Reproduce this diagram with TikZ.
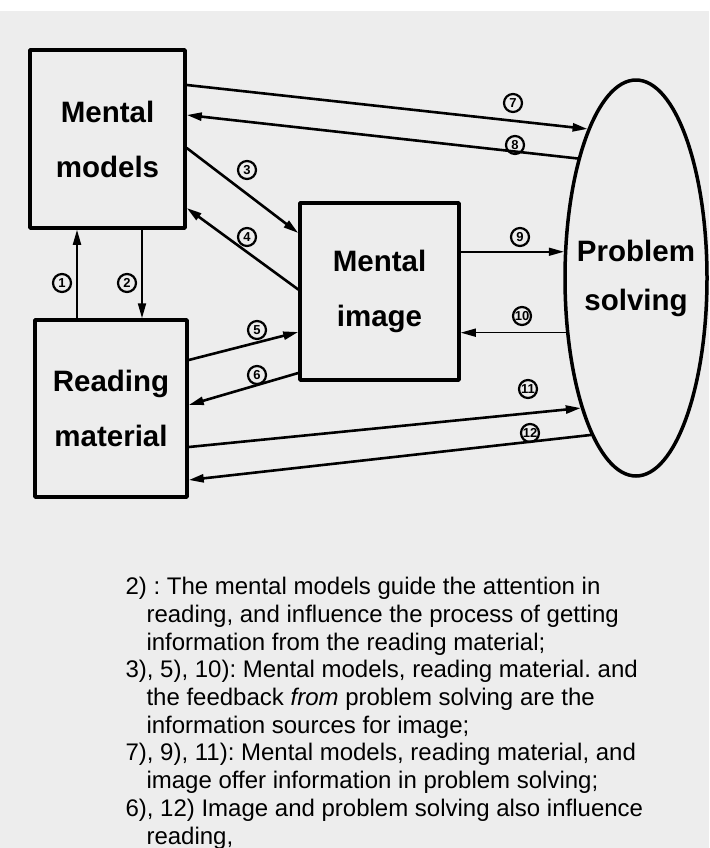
\documentclass[tikz,border=0pt]{standalone}
\usepackage{fontspec}
\setmainfont{Liberation Sans}
\usetikzlibrary{shapes.geometric,arrows.meta}
\definecolor{carta}{RGB}{237,237,237}
\frenchspacing
\tikzset{
  box/.style={draw, line width=3.5pt, minimum height=177pt, inner sep=0pt,
    align=center, font=\fontsize{29.5}{55}\selectfont\bfseries},
  blob/.style={draw, ellipse, line width=3.5pt, minimum width=142pt,
    minimum height=396pt, inner sep=0pt},
  arr/.style={line width=2.6pt, -{Triangle[length=15pt,width=8pt]}},
  num/.style={circle, draw, line width=2.2pt, minimum size=18pt, inner sep=0pt,
    font=\fontsize{13}{13}\selectfont\bfseries}
}
\begin{document}
\begin{tikzpicture}[x=1pt, y=-1pt, line cap=round, line join=round]

    % Sfondo della pagina
    \useasboundingbox (0,0) rectangle (709,848);
    \fill[carta] (0,11) rectangle (709,848);

    % Riquadri ed ellisse
    \node[box, minimum width=155pt, minimum height=178pt] (models) at (107.5,139) {Mental\\models};
    \node[box, minimum width=159pt] (image) at (379.5,291.5) {Mental\\image};
    \node[box, minimum width=152pt] (reading) at (111,408.5) {Reading\\material};
    \node[blob] (solving) at (636,278) {};
    \node[align=center, font=\fontsize{29.5}{49}\selectfont\bfseries] (solvingtxt) at (solving.center) {Problem\\solving};

    % Frecce tra modelli e materiale
    \draw[arr, line width=2pt] ([xshift=-34pt]reading.north) -- ([xshift=-34pt]reading.north |- models.south);
    \draw[arr, line width=2pt] ([xshift=34.5pt]models.south) -- ([xshift=34.5pt]models.south |- reading.north);

    % Frecce verso e dall'immagine
    \draw[arr] ([yshift=-9pt]models.east) -- ([yshift=58.5pt]image.west);
    \draw[arr] ([yshift=2pt]image.west) -- ([yshift=-69pt]models.east);
    \draw[arr] ([yshift=48.5pt]reading.east) -- ([yshift=-40.5pt]image.west);
    \draw[arr] ([yshift=-81.5pt]image.west) -- ([yshift=3.5pt]reading.east);

    % Frecce verso e dalla soluzione
    \draw[arr] ([yshift=54pt]models.east) -- (solving.108);
    \draw[arr] (solving.116) -- ([yshift=24pt]models.east);
    \draw[arr, line width=1.6pt] (solving.160 -| image.east) -- (solving.160);
    \draw[arr, line width=1.6pt] (solving.218) -- (solving.218 -| image.east);
    \draw[arr] ([yshift=-38.5pt]reading.east) -- (solving.247);
    \draw[arr] (solving.254) -- ([yshift=-71.5pt]reading.east);

    % Numeri cerchiati
    \foreach \n/\x/\y in {1/62/283, 2/127/283, 3/247/170, 4/247/237, 5/257/330,
        6/257/375, 7/513/103, 8/515/145, 9/520/237, 10/522/316, 11/528/389, 12/530/433}
      \node[num] (n\n) at (\x,\y) {\n};

    % Legenda
    \node[anchor=base west, align=left, font=\fontsize{24}{27.7}\selectfont] (legenda) at (122,844) {%
      2) : The mental models guide the attention in\\
      \hspace*{21pt}reading, and influence the process of getting\\
      \hspace*{21pt}information from the reading material;\\
      3), 5), 10): Mental models, reading material. and\\
      \hspace*{21pt}the feedback \textit{from} problem solving are the\\
      \hspace*{21pt}information sources for image;\\
      7), 9), 11): Mental models, reading material, and\\
      \hspace*{21pt}image offer information in problem solving;\\
      6), 12) Image and problem solving also influence\\
      \hspace*{21pt}reading,};

\end{tikzpicture}
\end{document}
